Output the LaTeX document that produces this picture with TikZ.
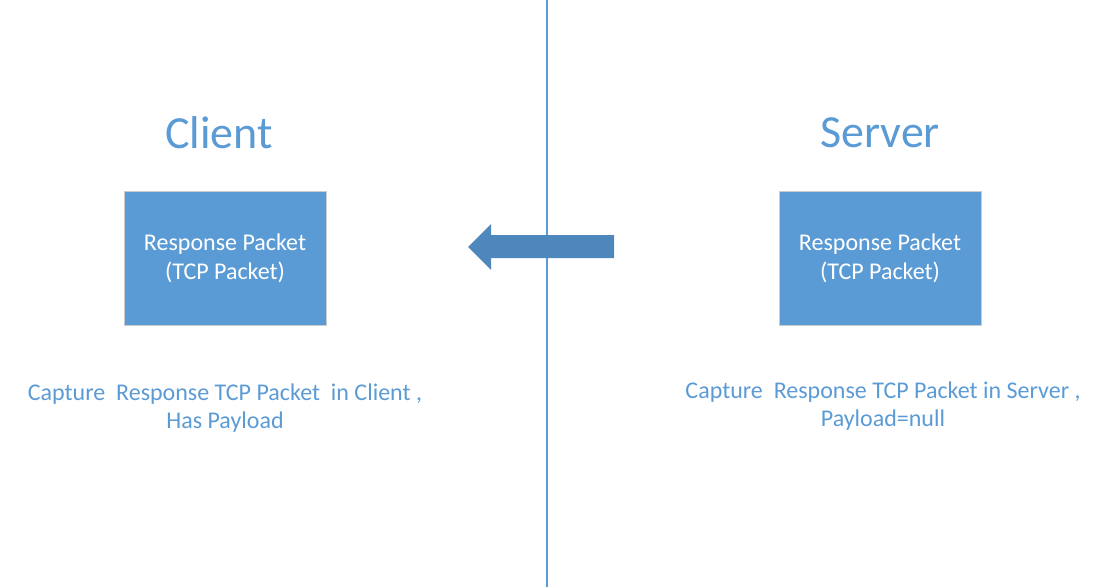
\documentclass[tikz,border=0pt]{standalone}
\usepackage{fontspec}
\setmainfont{Carlito}

\definecolor{packetblue}{HTML}{5B9BD5}
\definecolor{arrowblue}{HTML}{4E87BB}

\tikzset{
    packet/.style={fill=packetblue, draw=black!20, line width=0.8pt, minimum width=202pt, minimum height=134pt, inner sep=0pt, text=white, align=center, font=\fontsize{24}{29}\selectfont},
    side/.style={text=packetblue, font=\fontsize{46}{48}\selectfont},
    caption/.style={text=packetblue, align=center, font=\fontsize{24}{28}\selectfont}
}

\begin{document}
\begin{tikzpicture}[x=1pt, y=-1pt]

    \useasboundingbox (0, 0) rectangle (1099, 587);

    \draw[color=packetblue, line width=1.5pt] (547, 0) -- (547, 587);

    \node[side] (client) at (219, 133) {Client};
    \node[side] (server) at (880, 133) {Server};

    \node[packet] (clientpkt) at (225, 258) {Response Packet\\(TCP Packet)};
    \node[packet] (serverpkt) at (880, 258) {Response Packet\\(TCP Packet)};

    % arrow from server side to client side
    \fill[arrowblue] (614, 235) -- (491, 235) -- (491, 224) -- (468, 247)
        -- (491, 270) -- (491, 258) -- (614, 258) -- cycle;

    \node[caption] (clientcap) at (225, 408) {Capture~ Response TCP Packet~ in Client ,\\Has Payload};
    \node[caption] (servercap) at (883, 406) {Capture~ Response TCP Packet in Server ,\\Payload=null};

\end{tikzpicture}
\end{document}
